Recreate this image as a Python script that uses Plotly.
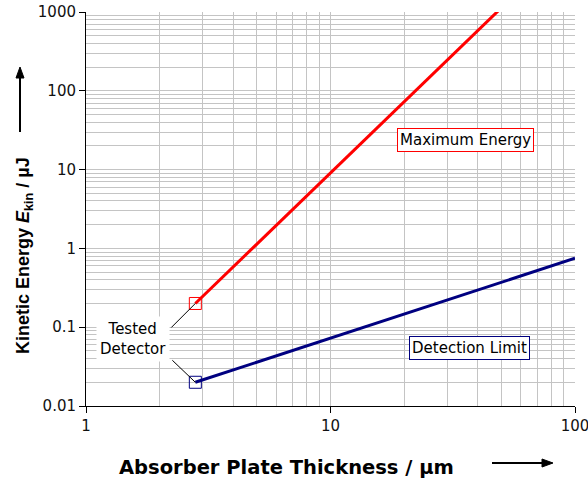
import math
import plotly.graph_objects as go

# Data
thickness_max = [2.8, 51]          # µm
energy_max = [0.2, 1200]           # µJ
thickness_det = [2.8, 100]         # µm
energy_det = [0.02, 0.75]          # µJ
tested_thickness = [2.8, 2.8]
tested_energy = [0.2, 0.02]
x_tickvals = [1, 10, 100]
x_ticktext = ["1", "10", "100"]
y_tickvals = [0.01, 0.1, 1, 10, 100, 1000]
y_ticktext = ["0.01", "0.1", "1", "10", "100", "1000"]

x_minor = [d * m for d in [1, 10] for m in range(2, 10)]
y_minor = [d * m for d in [0.01, 0.1, 1, 10, 100] for m in range(2, 10)]

GRID = "#c4c4c4"
FONT = "DejaVu Sans, sans-serif"
FONT_Y = "Liberation Sans, Arial, sans-serif"

# plot area in pixels
W, H = 588, 479
L, R, T, B = 86, 13, 12, 73
PW, PH = W - L - R, H - T - B


def px(x):
    return (x - L) / PW


def py(y):
    return (H - B - y) / PH


fig = go.Figure()
fig.add_trace(go.Scatter(x=thickness_max, y=energy_max, mode="lines",
                         line=dict(color="#ff0000", width=3), cliponaxis=False,
                         showlegend=False, hoverinfo="skip"))
fig.add_trace(go.Scatter(x=thickness_det, y=energy_det, mode="lines",
                         line=dict(color="#000080", width=3),
                         showlegend=False, hoverinfo="skip"))
fig.add_trace(go.Scatter(x=[tested_thickness[0]], y=[tested_energy[0]], mode="markers",
                         marker=dict(symbol="square-open", size=12, color="#ff0000",
                                     line=dict(width=1, color="#ff0000")),
                         cliponaxis=False, showlegend=False, hoverinfo="skip"))
fig.add_trace(go.Scatter(x=[tested_thickness[1]], y=[tested_energy[1]], mode="markers",
                         marker=dict(symbol="square-open", size=12, color="#000080",
                                     line=dict(width=1, color="#000080")),
                         cliponaxis=False, showlegend=False, hoverinfo="skip"))

axis_common = dict(type="log", showgrid=True, gridcolor=GRID, gridwidth=1,
                   showline=True, linecolor="black", linewidth=1,
                   ticks="outside", ticklen=6, tickcolor="black",
                   tickfont=dict(family=FONT, size=15, color="#111"),
                   ticklabeloverflow="allow",
                   zeroline=False, fixedrange=True, automargin=False)
fig.update_xaxes(range=[0, 2], tickvals=x_tickvals, ticktext=x_ticktext,
                 minor=dict(tickvals=x_minor, showgrid=True, gridcolor=GRID, gridwidth=1, ticks=""),
                 **axis_common)
fig.update_yaxes(range=[-2, 3], tickvals=y_tickvals, ticktext=y_ticktext,
                 minor=dict(tickvals=y_minor, showgrid=True, gridcolor=GRID, gridwidth=1, ticks=""),
                 **axis_common)

# Tested-detector anchor points in paper coordinates (from data)
sqx = math.log10(tested_thickness[0]) / 2
sqy_red = (math.log10(tested_energy[0]) + 2) / 5
sqy_blue = (math.log10(tested_energy[1]) + 2) / 5

shapes = [
    # leader lines
    dict(type="line", xref="paper", yref="paper", x0=sqx, y0=sqy_red,
         x1=sqx - 24 / PW, y1=sqy_red - 24 / PH, line=dict(color="black", width=1)),
    dict(type="line", xref="paper", yref="paper", x0=sqx, y0=sqy_blue,
         x1=sqx - 23 / PW, y1=sqy_blue + 22 / PH, line=dict(color="black", width=1)),
    # y-axis arrow
    dict(type="line", xref="paper", yref="paper", x0=px(20), y0=py(132), x1=px(20), y1=py(76),
         line=dict(color="black", width=2)),
    dict(type="path", xref="paper", yref="paper",
         path=f"M {px(20)} {py(67)} L {px(16)} {py(78)} L {px(24)} {py(78)} Z",
         fillcolor="black", line=dict(color="black", width=1)),
    # x-axis arrow
    dict(type="line", xref="paper", yref="paper", x0=px(492), y0=py(463), x1=px(544), y1=py(463),
         line=dict(color="black", width=2)),
    dict(type="path", xref="paper", yref="paper",
         path=f"M {px(553)} {py(463)} L {px(542)} {py(459)} L {px(542)} {py(467)} Z",
         fillcolor="black", line=dict(color="black", width=1)),
]

center = dict(xanchor="center", yanchor="middle", showarrow=False, xref="paper", yref="paper")
annotations = [
    dict(text="<b>Absorber Plate Thickness / µm</b>", x=px(286), y=py(468),
         font=dict(family=FONT, size=19.5, color="black"), **center),
    dict(text="<b>Kinetic Energy <i>E</i><sub>kin</sub> / µJ</b>", x=px(24), y=py(256),
         textangle=-90, font=dict(family=FONT_Y, size=18, color="black"), **center),
    dict(text="Maximum Energy", x=px(465.5), y=py(139.5),
         font=dict(family=FONT, size=15, color="black"), bgcolor="white",
         bordercolor="#ff0000", borderwidth=1, borderpad=2, **center),
    dict(text="Detection Limit", x=px(469), y=py(348),
         font=dict(family=FONT, size=15, color="black"), bgcolor="white",
         bordercolor="#000080", borderwidth=1, borderpad=2, **center),
    dict(text="Tested<br>Detector", x=px(133), y=py(339),
         font=dict(family=FONT, size=15, color="black"), bgcolor="white", borderpad=3, **center),
]

fig.update_layout(width=W, height=H, margin=dict(l=L, r=R, t=T, b=B, autoexpand=False),
                  plot_bgcolor="white", paper_bgcolor="white",
                  shapes=shapes, annotations=annotations, showlegend=False)

fig.write_html("out.html", config={"displayModeBar": False})
